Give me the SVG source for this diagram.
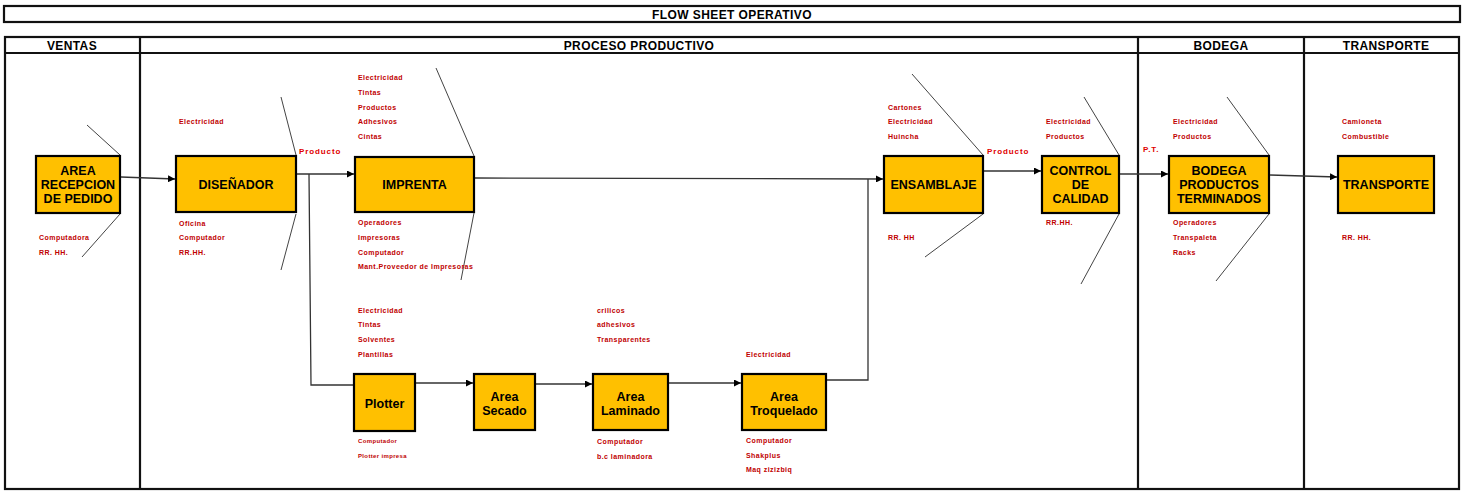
<svg xmlns="http://www.w3.org/2000/svg" width="1467" height="491" viewBox="0 0 1467 491">
<style>
.frame{fill:none;stroke:#111;stroke-width:2.2}
.hdr{font-family:"Liberation Sans",Arial,sans-serif;font-weight:bold;font-size:12px;letter-spacing:0.4px;fill:#000;text-anchor:middle}
.box{fill:#FFC000;stroke:#000;stroke-width:2.2}
.nt{font-family:"Liberation Sans",Arial,sans-serif;font-weight:bold;font-size:12.5px;fill:#000;text-anchor:middle}
.lb{font-family:"Liberation Sans",Arial,sans-serif;font-weight:bold;font-size:7px;letter-spacing:0.45px;fill:#C00000}
.lbs{font-family:"Liberation Sans",Arial,sans-serif;font-weight:bold;font-size:6px;letter-spacing:0.35px;fill:#C00000}
.pl{font-family:"Liberation Sans",Arial,sans-serif;font-weight:bold;font-size:8px;letter-spacing:0.9px;fill:#E00000}
.cn{fill:none;stroke:#333;stroke-width:1.3}
.fn{fill:none;stroke:#444;stroke-width:1}
</style>
<defs>
<marker id="arr" viewBox="0 0 10 10" refX="10" refY="5" markerWidth="7" markerHeight="7" markerUnits="userSpaceOnUse" orient="auto">
<path d="M0,0 L10,5 L0,10 z" fill="#000"/>
</marker>
</defs>
<rect width="1467" height="491" fill="#fff"/>
<g id="frame">
<rect class="frame" x="4" y="6" width="1456" height="16"/>
<text class="hdr" x="732" y="18.5">FLOW SHEET OPERATIVO</text>
<rect class="frame" x="5" y="37" width="1454" height="452"/>
<line class="frame" x1="5" y1="53" x2="1459" y2="53"/>
<line class="frame" x1="140" y1="37" x2="140" y2="489"/>
<line class="frame" x1="1138" y1="37" x2="1138" y2="489"/>
<line class="frame" x1="1304" y1="37" x2="1304" y2="489"/>
<text class="hdr" x="72" y="50">VENTAS</text>
<text class="hdr" x="639" y="50">PROCESO PRODUCTIVO</text>
<text class="hdr" x="1221" y="50">BODEGA</text>
<text class="hdr" x="1386" y="50">TRANSPORTE</text>
</g>
<g id="connectors">
<line class="cn" x1="121" y1="177" x2="175" y2="179" marker-end="url(#arr)"/>
<line class="cn" x1="297" y1="174" x2="354" y2="174" marker-end="url(#arr)"/>
<polyline class="cn" points="309,174 311,385 354,385"/>
<line class="cn" x1="475" y1="178" x2="883" y2="179" marker-end="url(#arr)"/>
<polyline class="cn" points="827,380 868,380 868,179"/>
<line class="cn" x1="416" y1="383" x2="473" y2="383" marker-end="url(#arr)"/>
<line class="cn" x1="536" y1="384" x2="592" y2="384" marker-end="url(#arr)"/>
<line class="cn" x1="669" y1="383" x2="741" y2="383" marker-end="url(#arr)"/>
<line class="cn" x1="984" y1="171" x2="1041" y2="171" marker-end="url(#arr)"/>
<line class="cn" x1="1120" y1="174" x2="1168" y2="174" marker-end="url(#arr)"/>
<line class="cn" x1="1270" y1="175" x2="1337" y2="177" marker-end="url(#arr)"/>
<line class="fn" x1="87" y1="125" x2="120" y2="155"/>
<line class="fn" x1="120" y1="214" x2="82" y2="257"/>
<line class="fn" x1="281" y1="97" x2="296" y2="155"/>
<line class="fn" x1="296" y1="214" x2="281" y2="270"/>
<line class="fn" x1="436" y1="68" x2="474" y2="156"/>
<line class="fn" x1="474" y1="213" x2="461" y2="280"/>
<line class="fn" x1="912" y1="74" x2="983" y2="155"/>
<line class="fn" x1="983" y1="214" x2="925" y2="257"/>
<line class="fn" x1="1084" y1="97" x2="1119" y2="155"/>
<line class="fn" x1="1119" y1="214" x2="1081" y2="284"/>
<line class="fn" x1="1227" y1="97" x2="1269" y2="155"/>
<line class="fn" x1="1269" y1="214" x2="1216" y2="281"/>
<text class="pl" x="299" y="154">Producto</text>
<text class="pl" x="987" y="154">Producto</text>
<text class="pl" x="1143" y="152">P.T.</text>
</g>
<g id="n-recepcion">
<rect class="box" x="36" y="156" width="84" height="57"/>
<text class="nt" x="78" y="174.5">AREA</text>
<text class="nt" x="78" y="188.5">RECEPCION</text>
<text class="nt" x="78" y="202.5">DE PEDIDO</text>
<text class="lb" x="39" y="239.5">Computadora</text>
<text class="lb" x="39" y="254.5">RR. HH.</text>
</g>
<g id="n-disenador">
<rect class="box" x="176" y="156" width="120" height="56"/>
<text class="nt" x="236" y="188.5">DISEÑADOR</text>
<text class="lb" x="179" y="123.5">Electricidad</text>
<text class="lb" x="179" y="225.5">Oficina</text>
<text class="lb" x="179" y="239.5">Computador</text>
<text class="lb" x="179" y="254.5">RR.HH.</text>
</g>
<g id="n-imprenta">
<rect class="box" x="355" y="157" width="119" height="55"/>
<text class="nt" x="414.5" y="188.5">IMPRENTA</text>
<text class="lb" x="358" y="79.5">Electricidad</text>
<text class="lb" x="358" y="94.5">Tintas</text>
<text class="lb" x="358" y="109.5">Productos</text>
<text class="lb" x="358" y="123.5">Adhesivos</text>
<text class="lb" x="358" y="138.5">Cintas</text>
<text class="lb" x="358" y="224.5">Operadores</text>
<text class="lb" x="358" y="239.5">Impresoras</text>
<text class="lb" x="358" y="254.5">Computador</text>
<text class="lb" x="358" y="268.5">Mant.Proveedor de Impresoras</text>
</g>
<g id="n-ensamblaje">
<rect class="box" x="884" y="156" width="99" height="57"/>
<text class="nt" x="933.5" y="188.5">ENSAMBLAJE</text>
<text class="lb" x="888" y="109.5">Cartones</text>
<text class="lb" x="888" y="123.5">Electricidad</text>
<text class="lb" x="888" y="138.5">Huincha</text>
<text class="lb" x="888" y="239.5">RR. HH</text>
</g>
<g id="n-control">
<rect class="box" x="1042" y="156" width="77" height="57"/>
<text class="nt" x="1080.5" y="174.5">CONTROL</text>
<text class="nt" x="1080.5" y="188.5">DE</text>
<text class="nt" x="1080.5" y="202.5">CALIDAD</text>
<text class="lb" x="1046" y="123.5">Electricidad</text>
<text class="lb" x="1046" y="138.5">Productos</text>
<text class="lb" x="1046" y="224.5">RR.HH.</text>
</g>
<g id="n-bodega">
<rect class="box" x="1169" y="156" width="100" height="57"/>
<text class="nt" x="1219" y="174.5">BODEGA</text>
<text class="nt" x="1219" y="188.5">PRODUCTOS</text>
<text class="nt" x="1219" y="202.5">TERMINADOS</text>
<text class="lb" x="1173" y="123.5">Electricidad</text>
<text class="lb" x="1173" y="138.5">Productos</text>
<text class="lb" x="1173" y="224.5">Operadores</text>
<text class="lb" x="1173" y="239.5">Transpaleta</text>
<text class="lb" x="1173" y="254.5">Racks</text>
</g>
<g id="n-transporte">
<rect class="box" x="1338" y="156" width="96" height="57"/>
<text class="nt" x="1386" y="188.5">TRANSPORTE</text>
<text class="lb" x="1342" y="123.5">Camioneta</text>
<text class="lb" x="1342" y="138.5">Combustible</text>
<text class="lb" x="1342" y="239.5">RR. HH.</text>
</g>
<g id="n-plotter">
<rect class="box" x="354" y="374" width="61" height="57"/>
<text class="nt" x="384.5" y="407.5">Plotter</text>
<text class="lb" x="358" y="312.5">Electricidad</text>
<text class="lb" x="358" y="326.5">Tintas</text>
<text class="lb" x="358" y="341.5">Solventes</text>
<text class="lb" x="358" y="356.5">Plantillas</text>
<text class="lbs" x="358" y="443">Computador</text>
<text class="lbs" x="358" y="458">Plotter impresa</text>
</g>
<g id="n-secado">
<rect class="box" x="474" y="374" width="61" height="56"/>
<text class="nt" x="504.5" y="400.5">Area</text>
<text class="nt" x="504.5" y="415">Secado</text>
</g>
<g id="n-laminado">
<rect class="box" x="593" y="374" width="75" height="56"/>
<text class="nt" x="630.5" y="400.5">Area</text>
<text class="nt" x="630.5" y="415">Laminado</text>
<text class="lb" x="597" y="312.5">crilicos</text>
<text class="lb" x="597" y="326.5">adhesivos</text>
<text class="lb" x="597" y="341.5">Transparentes</text>
<text class="lb" x="597" y="443.5">Computador</text>
<text class="lb" x="597" y="458.5">b.c laminadora</text>
</g>
<g id="n-troquelado">
<rect class="box" x="742" y="374" width="84" height="56"/>
<text class="nt" x="784" y="401">Area</text>
<text class="nt" x="784" y="415">Troquelado</text>
<text class="lb" x="746" y="356.5">Electricidad</text>
<text class="lb" x="746" y="442.5">Computador</text>
<text class="lb" x="746" y="457.5">Shakplus</text>
<text class="lb" x="746" y="471.5">Maq zizizbiq</text>
</g>
</svg>
